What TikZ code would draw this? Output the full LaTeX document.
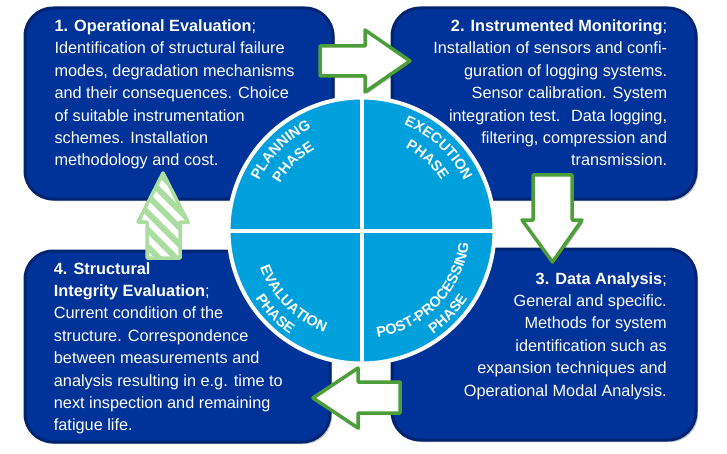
\documentclass[tikz,border=0pt]{standalone}
\usepackage{fontspec}
\setmainfont{Liberation Sans}
\usetikzlibrary{shadows,decorations.text,calc}
\definecolor{navy}{RGB}{0,51,153}
\definecolor{navyedge}{RGB}{0,36,112}
\definecolor{phaseblue}{RGB}{0,160,220}
\definecolor{arrowgreen}{RGB}{76,158,56}
\definecolor{palegreen}{RGB}{170,221,160}
\newcommand\phasefont{\fontsize{14.5}{17}\selectfont\bfseries\color{white}}

\begin{document}
\begin{tikzpicture}[x=1pt,y=1pt,
  stagebox/.style={fill=navy, draw=navyedge, line width=3pt, rounded corners=28pt,
    anchor=south west, inner sep=0pt, outer sep=0pt,
    drop shadow={shadow xshift=2pt, shadow yshift=-2pt, opacity=0.25, fill=black}},
  stagetext/.style={text=white, inner sep=0pt, font=\fontsize{16.3}{22.4}\selectfont},
  flowarrow/.style={draw=arrowgreen, fill=white, line width=3.5pt, line join=round,
    drop shadow={shadow xshift=2pt, shadow yshift=-2pt, opacity=0.25, fill=black}},
  phaselabel/.style={decorate, decoration={text along path, text align=center, text={#1}}}
]
\useasboundingbox (0,0) rectangle (727,453);

% four stage panels
\node[stagebox, minimum width=308pt, minimum height=191pt] (b1) at (25,254) {};
\node[stagebox, minimum width=304pt, minimum height=191pt] (b2) at (392,254) {};
\node[stagebox, minimum width=304pt, minimum height=191pt] (b3) at (392,13) {};
\node[stagebox, minimum width=305pt, minimum height=191pt] (b4) at (25,11) {};

% panel texts
\node[stagetext, anchor=north west, align=left] (t1) at (54.3,433.6)
  {\textbf{1. Operational Evaluation};\\
   Identification of structural failure\\
   modes, degradation mechanisms\\
   and their consequences. Choice\\
   of suitable instrumentation\\
   schemes. Installation\\
   methodology and cost.};
\node[stagetext, anchor=north east, align=right] (t2) at (667.3,433.6)
  {\textbf{2. Instrumented Monitoring};\\
   Installation of sensors and confi-\\
   guration of logging systems.\\
   Sensor calibration. System\\
   integration test.~ Data logging,\\
   filtering, compression and\\
   transmission.};
\node[stagetext, anchor=north east, align=right] (t3) at (667,181)
  {\textbf{3. Data Analysis};\\
   General and specific.\\
   Methods for system\\
   identification such as\\
   expansion techniques and\\
   Operational Modal Analysis.};
\node[stagetext, anchor=north west, align=left] (t4) at (53.7,191)
  {\textbf{4. Structural}\\
   \textbf{Integrity Evaluation};\\
   Current condition of the\\
   structure. Correspondence\\
   between measurements and\\
   analysis resulting in e.g. time to\\
   next inspection and remaining\\
   fatigue life.};

% central phase wheel
\node[circle, fill=phaseblue, draw=white, line width=4pt, minimum size=266pt,
      inner sep=0pt, outer sep=0pt,
      drop shadow={shadow xshift=1.5pt, shadow yshift=-1.5pt, opacity=0.2, fill=black}]
      (hub) at (361.5,222.5) {};
\draw[white, line width=4pt] (hub.north) -- (hub.south);
\draw[white, line width=4pt] (hub.west) -- (hub.east);

% phase names set along the rim
\path[phaselabel={|\phasefont|PLANNING}]
  ($(hub.center)+(185:114)$) arc[start angle=185, end angle=85, radius=114];
\path[phaselabel={|\phasefont|PHASE}]
  ($(hub.center)+(185:94)$) arc[start angle=185, end angle=85, radius=94];
\path[phaselabel={|\phasefont|EXECUTION}]
  ($(hub.center)+(97:114)$) arc[start angle=97, end angle=-3, radius=114];
\path[phaselabel={|\phasefont|PHASE}]
  ($(hub.center)+(97:94)$) arc[start angle=97, end angle=-3, radius=94];
\path[phaselabel={|\phasefont|EVALUATION}]
  ($(hub.center)+(175:108)$) arc[start angle=175, end angle=275, radius=108];
\path[phaselabel={|\phasefont|PHASE}]
  ($(hub.center)+(174:126)$) arc[start angle=174, end angle=274, radius=126];
\path[phaselabel={|\phasefont|POST-PROCESSING}]
  ($(hub.center)+(-99:108)$) arc[start angle=-99, end angle=11, radius=108];
\path[phaselabel={|\phasefont|PHASE}]
  ($(hub.center)+(-94:126)$) arc[start angle=-94, end angle=6, radius=126];

% flow arrows between the stages
\draw[flowarrow] (320,377) -- (365,377) -- (365,361) -- (410,392)
  -- (365,423) -- (365,407) -- (320,407) -- cycle;
\draw[flowarrow] (533,278) -- (572,278) -- (572,233) -- (582,233)
  -- (552.5,191) -- (522,233) -- (533,233) -- cycle;
\draw[flowarrow] (400,71) -- (358,71) -- (358,85) -- (313,55)
  -- (358,25) -- (358,40) -- (400,40) -- cycle;

% hatched return arrow
\fill[white, drop shadow={shadow xshift=2pt, shadow yshift=-2pt, opacity=0.2, fill=black}]
  (147,195) -- (180,195) -- (180,231) -- (188,231) -- (163,280)
  -- (138,231) -- (147,231) -- cycle;
\begin{scope}
  \clip (147,195) -- (180,195) -- (180,231) -- (188,231) -- (163,280)
    -- (138,231) -- (147,231) -- cycle;
  \foreach \c in {320,337,...,490}
    \draw[palegreen, line width=6pt] (\c-320,320) -- (\c-120,120);
\end{scope}
\draw[palegreen, line width=3.5pt, line join=round]
  (147,195) -- (180,195) -- (180,231) -- (188,231) -- (163,280)
  -- (138,231) -- (147,231) -- cycle;
\end{tikzpicture}
\end{document}
